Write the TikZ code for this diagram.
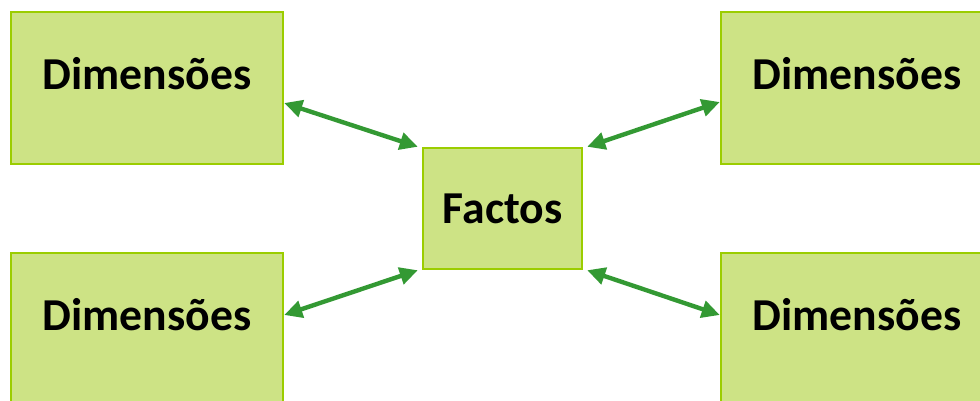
\documentclass[tikz,border=0pt]{standalone}
\usepackage{fontspec}
\setmainfont{Carlito}
\usepackage{tikz}
\usetikzlibrary{calc}
\usetikzlibrary{arrows.meta}

\definecolor{boxfill}{RGB}{205,227,133}
\definecolor{boxline}{RGB}{155,205,0}
\definecolor{arrowgreen}{RGB}{51,153,51}

\begin{document}
\begin{tikzpicture}[x=0.02cm, y=-0.02cm,
  dimbox/.style={draw=boxline, fill=boxfill, line width=1.4pt, minimum width=5.44cm, inner xsep=0pt, inner ysep=0pt, text height=1.54cm, text depth=1.5cm, font=\fontsize{26}{31}\selectfont\bfseries},
  factbox/.style={draw=boxline, fill=boxfill, line width=1.4pt, minimum width=3.18cm, minimum height=2.42cm, inner sep=0pt, font=\fontsize{26}{31}\selectfont\bfseries},
  link/.style={arrowgreen, line width=2.5pt, {Triangle[length=0.36cm, width=0.34cm]}-{Triangle[length=0.36cm, width=0.34cm]}}]
\clip (0,0) rectangle (980,400);
\fill[white] (0,0) rectangle (980,400);

\node[factbox] (f) at (502.5,208.5){Factos};

\node[dimbox] (tl) at (147,88){Dimensões};
\node[dimbox] (tr) at (857,88){Dimensões};
\node[dimbox] (bl) at (147,329){Dimensões};
\node[dimbox] (br) at (857,329){Dimensões};

\draw[link] ([yshift=-0.3cm]tl.east) -- ([xshift=-0.08cm]f.north west);
\draw[link] ([xshift=0.08cm]f.north east) -- ([yshift=-0.28cm]tr.west);
\draw[link] ([yshift=0.28cm]bl.east) -- ([xshift=-0.08cm]f.south west);
\draw[link] ([xshift=0.08cm]f.south east) -- ([yshift=0.28cm]br.west);

\end{tikzpicture}
\end{document}
